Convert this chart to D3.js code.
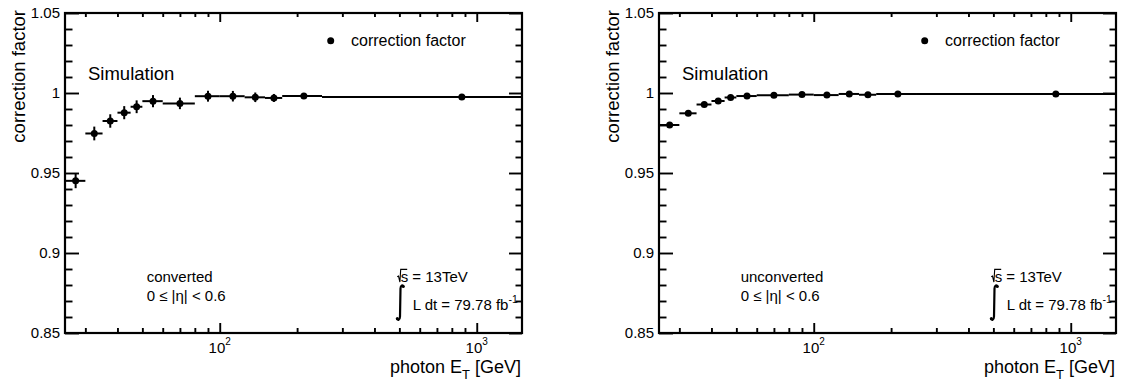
<!DOCTYPE html>
<html>
<head>
<meta charset="utf-8">
<script src="https://cdn.jsdelivr.net/npm/d3@7"></script>
<style>
  body { margin: 0; background: #fff; }
  svg { display: block; font-family: "Liberation Sans", Arial, Helvetica, sans-serif; }
</style>
</head>
<body>
<div id="chart"></div>
<script>
// Photon correction factor vs photon ET - converted / unconverted, 0 <= |eta| < 0.6

const binEdges = [25, 30, 35, 40, 45, 50, 60, 80, 100, 125, 150, 175, 250, 1500];
const convertedFactor = [0.9451, 0.9747, 0.9825, 0.9877, 0.9914, 0.9949, 0.9935, 0.998, 0.998, 0.9973, 0.9969, 0.9982, 0.9975];
const convertedError = [0.0046, 0.0043, 0.0042, 0.0041, 0.004, 0.0038, 0.0036, 0.0034, 0.0033, 0.003, 0.0025, 0.0015, 0.001];
const unconvertedFactor = [0.98, 0.9873, 0.9928, 0.995, 0.9972, 0.9981, 0.9986, 0.999, 0.9987, 0.9994, 0.9989, 0.9994, 0.9993];
const unconvertedError = [0.0012, 0.001, 0.0009, 0.0008, 0.0008, 0.0007, 0.0007, 0.0007, 0.0007, 0.0007, 0.0007, 0.0006, 0.0005];

const yTickValues = [0.85, 0.9, 0.95, 1, 1.05];
const yTickLabels = ['0.85', '0.9', '0.95', '1', '1.05'];
const xMajorTicks = [100, 1000];
const xTickExponents = ['2', '3'];
const panelLabels = ['converted', 'unconverted'];
const etaLabel = '0 \u2264 |\u03b7| < 0.6';
const legendLabel = 'correction factor';

const totalWidth = 1126;
const totalHeight = 381;

const svg = d3.select('#chart')
    .append('svg')
    .attr('width', totalWidth)
    .attr('height', totalHeight);

svg.append('rect')
    .attr('width', totalWidth)
    .attr('height', totalHeight)
    .style('fill', '#fff');

function createPanel(factor, error, label, offsetX) {
    const width = 457;
    const height = 320;

    const g = svg.append('g')
        .attr('transform', `translate(${offsetX},13)`);

    const x = d3.scaleLog()
        .domain([binEdges[0], binEdges[binEdges.length - 1]])
        .range([0, width]);

    const y = d3.scaleLinear()
        .domain([yTickValues[0], yTickValues[yTickValues.length - 1]])
        .range([height, 0]);

    // minor ticks: 2..9 x decade on x, every 0.01 on y
    const xMinor = [];
    [10, 100, 1000].forEach(dec => {
        for (let k = 2; k <= 9; k++) {
            const v = k * dec;
            if (v > x.domain()[0] && v < x.domain()[1]) xMinor.push(v);
        }
    });
    const yMinor = d3.range(0.86, 1.045, 0.01)
        .filter(v => !yTickValues.some(t => Math.abs(t - v) < 1e-6));

    function ticks(axis, values, size, transform) {
        g.append('g')
            .attr('transform', transform)
            .call(axis.tickValues(values).tickSize(size).tickFormat(''))
            .call(s => s.select('.domain').remove())
            .selectAll('line')
            .style('stroke', '#000')
            .style('stroke-width', 1.9);
    }

    ticks(d3.axisBottom(x), xMinor, -5, `translate(0,${height})`);
    ticks(d3.axisBottom(x), xMajorTicks, -10, `translate(0,${height})`);
    ticks(d3.axisTop(x), xMinor, -4, 'translate(0,0)');
    ticks(d3.axisTop(x), xMajorTicks, -9, 'translate(0,0)');
    ticks(d3.axisLeft(y), yMinor, -7.5, 'translate(0,0)');
    ticks(d3.axisLeft(y), yTickValues, -14, 'translate(0,0)');
    ticks(d3.axisRight(y), yMinor, -6.5, `translate(${width},0)`);
    ticks(d3.axisRight(y), yTickValues, -13, `translate(${width},0)`);

    // frame
    g.append('rect')
        .attr('width', width)
        .attr('height', height)
        .style('fill', 'none')
        .style('stroke', '#000')
        .style('stroke-width', 2.2);

    // y tick labels
    g.selectAll('.ylab')
        .data(yTickValues)
        .enter()
        .append('text')
        .attr('x', -5)
        .attr('y', d => y(d))
        .attr('dy', '0.35em')
        .attr('text-anchor', 'end')
        .style('font-size', '15px')
        .text((d, i) => yTickLabels[i]);

    // x tick labels 10^n
    const xl = g.selectAll('.xlab')
        .data(xMajorTicks)
        .enter()
        .append('text')
        .attr('x', d => x(d))
        .attr('y', height + 20)
        .attr('text-anchor', 'middle')
        .style('font-size', '15px');
    xl.append('tspan').text('10');
    xl.append('tspan')
        .attr('dy', -8)
        .style('font-size', '10px')
        .text((d, i) => xTickExponents[i]);

    // axis titles
    const xt = g.append('text')
        .attr('x', width - 1)
        .attr('y', height + 40)
        .attr('text-anchor', 'end')
        .style('font-size', '18px');
    xt.append('tspan').text('photon E');
    xt.append('tspan').attr('dy', 6).style('font-size', '13px').text('T');
    xt.append('tspan').attr('dy', -6).text(' [GeV]');

    g.append('text')
        .attr('transform', 'translate(-40,-3) rotate(-90)')
        .attr('text-anchor', 'end')
        .style('font-size', '18.5px')
        .text('correction factor');

    // data: bin-width bars, error bars, markers
    const bins = factor.map((v, i) => ({
        lo: binEdges[i],
        hi: binEdges[i + 1],
        c: (binEdges[i] + binEdges[i + 1]) / 2,
        v: v,
        e: error[i]
    }));

    const pts = g.append('g');

    pts.selectAll('.hbar')
        .data(bins)
        .enter()
        .append('line')
        .attr('x1', d => x(d.lo))
        .attr('x2', d => x(d.hi))
        .attr('y1', d => y(d.v))
        .attr('y2', d => y(d.v))
        .style('stroke', '#000')
        .style('stroke-width', 2);

    pts.selectAll('.vbar')
        .data(bins)
        .enter()
        .append('line')
        .attr('x1', d => x(d.c))
        .attr('x2', d => x(d.c))
        .attr('y1', d => y(d.v - d.e))
        .attr('y2', d => y(d.v + d.e))
        .style('stroke', '#000')
        .style('stroke-width', 2);

    pts.selectAll('circle')
        .data(bins)
        .enter()
        .append('circle')
        .attr('cx', d => x(d.c))
        .attr('cy', d => y(d.v))
        .attr('r', 3.5)
        .style('fill', '#000');

    // annotations
    g.append('text')
        .attr('x', 23)
        .attr('y', 67)
        .style('font-size', '18.5px')
        .text('Simulation');

    g.append('circle')
        .attr('cx', 265.7)
        .attr('cy', 27.7)
        .attr('r', 3.5)
        .style('fill', '#000');

    g.append('text')
        .attr('x', 286)
        .attr('y', 33)
        .style('font-size', '16px')
        .text(legendLabel);

    g.append('text')
        .attr('x', 81.7)
        .attr('y', 269.3)
        .style('font-size', '15px')
        .text(label);

    g.append('text')
        .attr('x', 81.7)
        .attr('y', 287.7)
        .style('font-size', '15px')
        .text(etaLabel);

    // sqrt(s) = 13TeV
    const sx = 335.7, sy = 268.7;
    g.append('path')
        .attr('d', `M${sx - 3.5},${sy - 5} L${sx - 2.2},${sy - 5.6} L${sx - 0.8},${sy + 0.3} L${sx},${sy - 12.3} L${sx + 6.5},${sy - 12.3}`)
        .style('fill', 'none')
        .style('stroke', '#000')
        .style('stroke-width', 1.1);
    g.append('text')
        .attr('x', sx)
        .attr('y', sy)
        .style('font-size', '15px')
        .text('s = 13TeV');

    // integral sign
    g.append('path')
        .attr('d', 'M338.6,273.6 C337.8,271.6 335.6,271.8 335.5,275.5 L335,303.5 C334.9,307.4 332.6,307.6 332,305.6')
        .style('fill', 'none')
        .style('stroke', '#000')
        .style('stroke-width', 2.2);
    g.append('circle').attr('cx', 338.3).attr('cy', 273.6).attr('r', 1.5).style('fill', '#000');
    g.append('circle').attr('cx', 332.3).attr('cy', 305.4).attr('r', 1.5).style('fill', '#000');

    const lumi = g.append('text')
        .attr('x', 347.7)
        .attr('y', 297)
        .style('font-size', '15px');
    lumi.append('tspan').text('L dt = 79.78 fb');
    lumi.append('tspan')
        .attr('dy', -7)
        .style('font-size', '10.5px')
        .text('-1');
}

createPanel(convertedFactor, convertedError, panelLabels[0], 65);
createPanel(unconvertedFactor, unconvertedError, panelLabels[1], 659);
</script>
</body>
</html>
